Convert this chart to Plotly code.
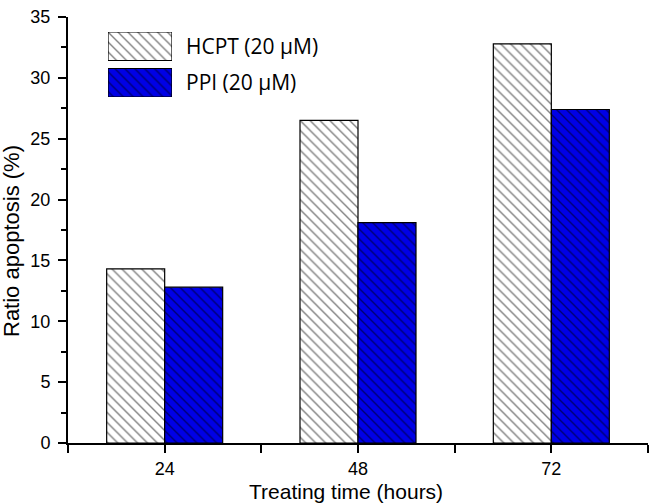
import plotly.graph_objects as go

hours = [24, 48, 72]
hcpt = [14.3, 26.5, 32.8]
ppi = [12.8, 18.1, 27.4]
series_names = ["HCPT (20 µM)", "PPI (20 µM)"]
x_ticks = [24, 48, 72]
y_ticks = [0, 5, 10, 15, 20, 25, 30, 35]

BLUE = "#0000e6"
W = 7.2

FW, FH = 660, 504
L, R, T, B = 68, 12, 17, 61
PW = FW - L - R
PH = FH - T - B

def px_x(p):
    return (p - L) / PW

def px_y(p):
    return (FH - B - p) / PH

pat_kw = dict(shape="\\", fgcolor="black", size=7, solidity=0.2)

fig = go.Figure()
fig.add_trace(go.Bar(
    x=hours, y=hcpt, name=series_names[0], offset=-W, width=W,
    marker=dict(color="white", line=dict(color="black", width=1.2),
                pattern=dict(bgcolor="white", **pat_kw)),
    showlegend=False))
fig.add_trace(go.Bar(
    x=hours, y=ppi, name=series_names[1], offset=0, width=W,
    marker=dict(color=BLUE, line=dict(color="black", width=1.2),
                pattern=dict(bgcolor=BLUE, **pat_kw)),
    showlegend=False))

# legend swatches drawn as bars in an inset axis
fig.add_trace(go.Bar(
    x=[1], y=[1], orientation="h", width=0.78, xaxis="x2", yaxis="y2", showlegend=False,
    marker=dict(color="white", line=dict(color="black", width=1.2),
                pattern=dict(bgcolor="white", **pat_kw)),
    hoverinfo="skip"))
fig.add_trace(go.Bar(
    x=[1], y=[0], orientation="h", width=0.78, xaxis="x2", yaxis="y2", showlegend=False,
    marker=dict(color=BLUE, line=dict(color="black", width=1.2),
                pattern=dict(bgcolor=BLUE, **pat_kw)),
    hoverinfo="skip"))

tickfont = dict(family="Liberation Sans, Arial", size=18, color="black")

fig.update_layout(
    width=FW, height=FH,
    margin=dict(l=L, r=R, t=T, b=B, autoexpand=False),
    paper_bgcolor="white", plot_bgcolor="white",
    barmode="overlay",
    xaxis=dict(range=[12, 84], tickvals=x_ticks, ticks="outside", ticklen=8, tickwidth=2,
               tickcolor="black", showline=True, linecolor="black", linewidth=2,
               showgrid=False, zeroline=False, tickfont=tickfont, ticklabelstandoff=0,
               ticklabeloverflow="allow", automargin=False,
               minor=dict(tickvals=[12, 36, 60, 84], ticks="outside", ticklen=8, tickwidth=2,
                          tickcolor="black", showgrid=False)),
    yaxis=dict(range=[0, 35], tickvals=y_ticks, ticks="outside", ticklen=8, tickwidth=2,
               tickcolor="black", showline=True, linecolor="black", linewidth=2,
               showgrid=False, zeroline=False, tickfont=tickfont, ticklabelstandoff=4,
               ticklabeloverflow="allow", automargin=False,
               minor=dict(dtick=2.5, ticks="outside", ticklen=5, tickwidth=2,
                          tickcolor="black", showgrid=False)),
    xaxis2=dict(domain=[px_x(108), px_x(172)], range=[0, 1], anchor="y2", visible=False,
                fixedrange=True, automargin=False),
    yaxis2=dict(domain=[px_y(97), px_y(32)], range=[-0.39, 1.39], anchor="x2", visible=False,
                fixedrange=True, automargin=False),
    annotations=[
        dict(text="Treating time (hours)", x=px_x(346), y=px_y(491), xref="paper", yref="paper",
             showarrow=False, xanchor="center", yanchor="middle",
             font=dict(family="Liberation Sans, Arial", size=21, color="black")),
        dict(text="Ratio apoptosis (%)", x=px_x(11), y=px_y(241), xref="paper", yref="paper",
             showarrow=False, xanchor="center", yanchor="middle", textangle=-90,
             font=dict(family="Liberation Sans, Arial", size=22, color="black")),
        dict(text=series_names[0], x=px_x(184), y=px_y(46), xref="paper", yref="paper",
             showarrow=False, xanchor="left", yanchor="middle",
             font=dict(family="Open Sans", size=21, color="black")),
        dict(text=series_names[1], x=px_x(184), y=px_y(82), xref="paper", yref="paper",
             showarrow=False, xanchor="left", yanchor="middle",
             font=dict(family="Open Sans", size=21, color="black")),
    ],
)

fig.write_html("out.html", config={"displayModeBar": False},
               post_script="document.body.style.margin='0';document.body.style.overflow='hidden';")
